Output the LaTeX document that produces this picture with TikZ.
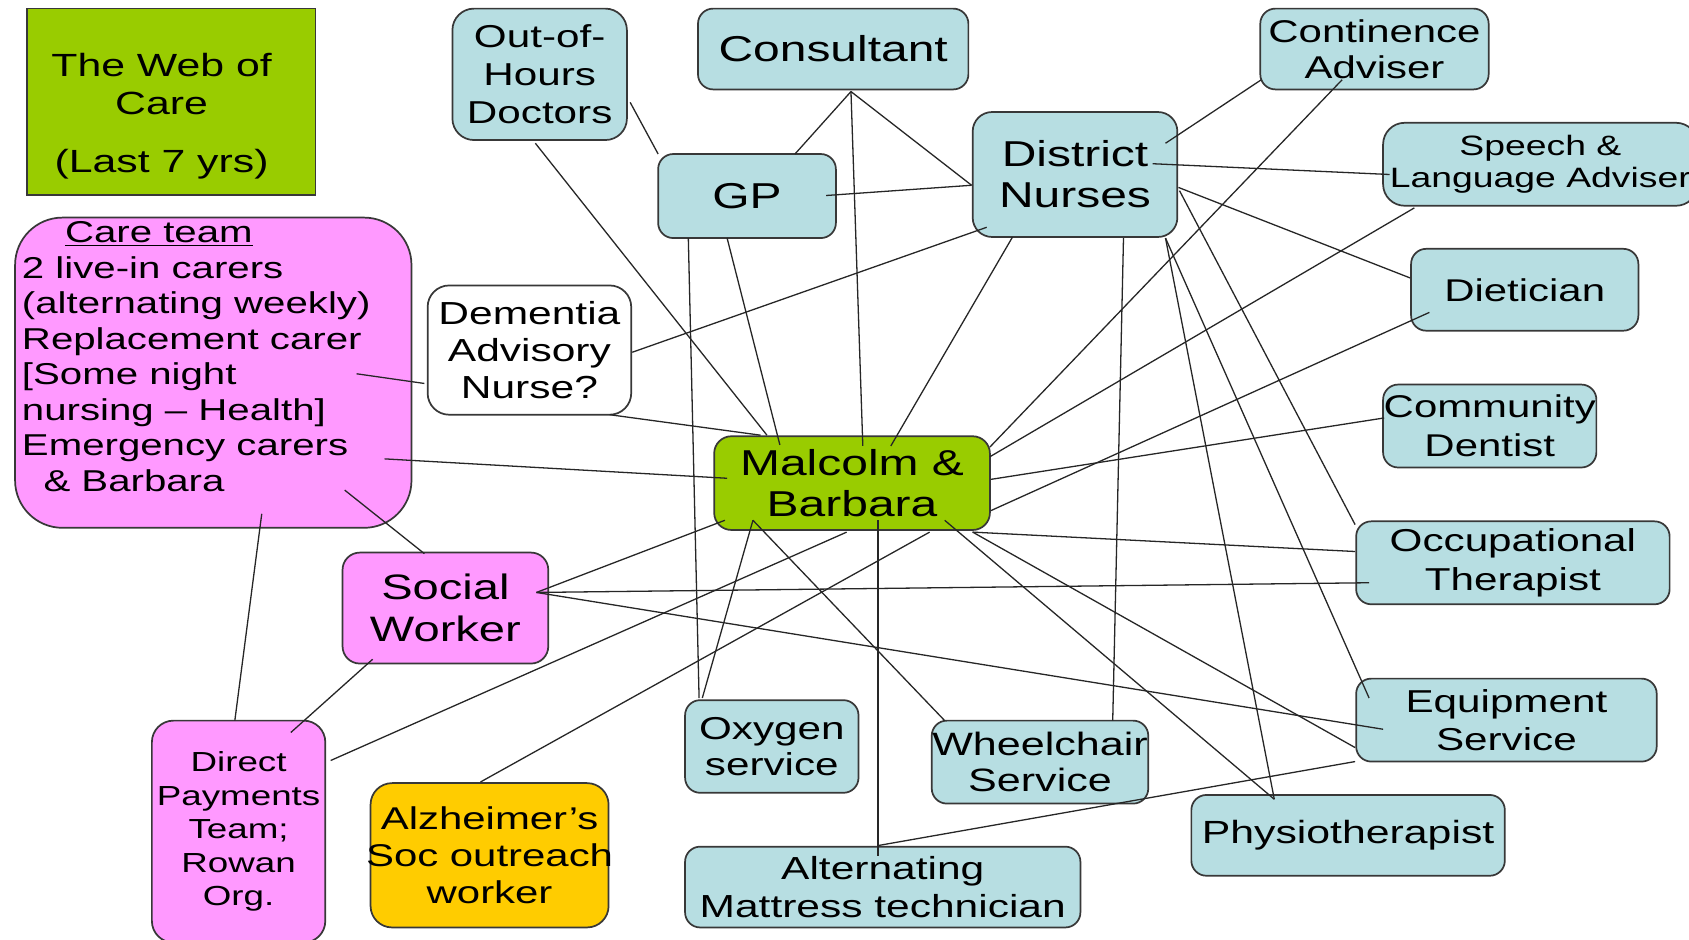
\documentclass[tikz,border=0pt]{standalone}
\usepackage{fontspec}
\setmainfont[FakeStretch=1.333]{Liberation Sans}
\usetikzlibrary{calc}
\definecolor{lblue}{HTML}{B7DEE2}
\definecolor{pinkc}{HTML}{FF99FF}
\definecolor{greenc}{HTML}{99CC00}
\definecolor{orangec}{HTML}{FFCC00}
\definecolor{edgec}{HTML}{383838}
\newcommand\fsz[2]{\fontsize{#1}{#2}\selectfont}
\tikzset{
  box/.style={draw=edgec, line width=0.8pt, rounded corners=7pt, align=center, inner sep=0pt, text=black},
  bluebox/.style={box, fill=lblue},
  pinkbox/.style={box, fill=pinkc},
  greenbox/.style={box, fill=greenc},
  orangebox/.style={box, fill=orangec},
  whitebox/.style={box, fill=white},
  txt/.style={inner sep=0pt, text=black},
  conn/.style={draw=black!85, line width=0.6pt},
}
\begin{document}
\begin{tikzpicture}[x=0.5pt, y=-0.5pt]
\clip (0,0) rectangle (1568,872);
\fill[white] (0,0) rectangle (1568,872);

% boxes
\node[greenbox, rounded corners=0pt, minimum width=134pt, minimum height=86.5pt] (title) at (159,94.5) {};
\node[txt, align=center, font=\fsz{14.9}{18}] (titletxt) at (150,107.5) {The Web of\\Care\\[8.5pt](Last 7 yrs)};

\node[pinkbox, rounded corners=22pt, minimum width=184pt, minimum height=144pt] (care) at (198,346) {};
\node[txt, align=left, anchor=west, font=\fsz{14}{16.5}] (caretxt) at (20,331)
  {\hspace*{20pt}\underline{Care team}\\2 live-in carers\\(alternating weekly)\\Replacement carer\\{[}Some night\\nursing -- Health]\\Emergency carers\\\hspace*{10pt}\& Barbara};

\node[bluebox, rounded corners=10pt, minimum width=81pt, minimum height=61pt, font=\fsz{14.7}{17.5}] (ooh) at (501,69) {Out-of-\\Hours\\Doctors};
\node[bluebox, minimum width=125.5pt, minimum height=37.5pt, font=\fsz{16.7}{19}] (cons) at (773.5,45.5) {\raisebox{-1pt}{Consultant}};
\node[bluebox, minimum width=106pt, minimum height=37.5pt, font=\fsz{14.6}{16.5}] (cont) at (1276,45.5) {Continence\\Adviser};
\node[bluebox, minimum width=82.5pt, minimum height=39pt, font=\fsz{16.7}{19}] (gp) at (693.5,182) {GP};
\node[bluebox, rounded corners=9pt, minimum width=95pt, minimum height=58pt, font=\fsz{16.7}{19}] (dn) at (998,162) {District\\Nurses};
\node[bluebox, rounded corners=10pt, minimum width=146pt, minimum height=38.5pt, font=\fsz{13}{14.5}] (speech) at (1430,152.5) {Speech \&\\Language Adviser};
\node[bluebox, minimum width=105.5pt, minimum height=38pt, font=\fsz{14.6}{17.5}] (diet) at (1415.5,269) {Dietician};
\node[bluebox, minimum width=99pt, minimum height=38.5pt, font=\fsz{14.6}{18}] (dent) at (1383,395.5) {Community\\Dentist};
\node[bluebox, minimum width=145.5pt, minimum height=38.5pt, font=\fsz{14.7}{18.5}] (occ) at (1404.5,522.5) {Occupational\\Therapist};
\node[bluebox, minimum width=139.5pt, minimum height=38.5pt, font=\fsz{14.7}{18}] (equip) at (1398.5,668.5) {Equipment\\Service};
\node[bluebox, minimum width=145.5pt, minimum height=37.5pt, font=\fsz{14.9}{17.5}] (physio) at (1251.5,775.5) {\raisebox{-1pt}{Physiotherapist}};
\node[bluebox, minimum width=100.5pt, minimum height=38.5pt, font=\fsz{15}{17}] (wheel) at (965.5,707.5) {\makebox[90pt]{Wheelchair}\\Service};
\node[bluebox, minimum width=183.5pt, minimum height=37.5pt, font=\fsz{14.8}{17.5}] (matt) at (819.5,823.5) {Alternating\\Mattress technician};
\node[bluebox, minimum width=80.5pt, minimum height=43pt, font=\fsz{14.7}{17}] (oxy) at (716.5,693) {Oxygen\\service};
\node[orangebox, rounded corners=10pt, minimum width=110.5pt, minimum height=67pt, font=\fsz{14.6}{17}] (alz) at (454.5,794) {Alzheimer’s\\\makebox[100pt]{Soc outreach}\\worker};
\node[pinkbox, rounded corners=10pt, minimum width=80.5pt, minimum height=103pt, font=\fsz{12.8}{15.5}] (dp) at (221.5,772) {Direct\\Payments\\Team;\\Rowan\\Org.};
\node[pinkbox, rounded corners=8pt, minimum width=95.5pt, minimum height=51.5pt, font=\fsz{16.4}{19.5}] (sw) at (413.5,564.5) {Social\\Worker};
\node[whitebox, rounded corners=10pt, minimum width=94.5pt, minimum height=60pt, font=\fsz{14.8}{17.3}] (dem) at (491.5,325) {Dementia\\Advisory\\Nurse?};
\node[greenbox, rounded corners=8pt, minimum width=128pt, minimum height=43.5pt, font=\fsz{16.7}{19}] (mb) at (791,448.5) {Malcolm \&\\Barbara};

% connectors
\draw[conn] ($(ooh)+(84,26)$) -- ($(gp)+(-82.5,-39)$);
\draw[conn] ($(ooh)+(-4,64)$) -- ($(mb)+(-79,-44.5)$);
\draw[conn] ($(cons)+(16.5,39.5)$) -- ($(gp)+(44.5,-39)$);
\draw[conn] ($(cons)+(16.5,39.5)$) -- ($(mb)+(10,-34.5)$);
\draw[conn] ($(cons)+(16.5,39.5)$) -- ($(dn)+(-96,10)$);
\draw[conn] ($(gp)+(73.5,-0.5)$) -- ($(dn)+(-96,10)$);
\draw[conn] ($(gp)+(-54.5,39)$) -- ($(oxy)+(-67.5,-45)$);
\draw[conn] ($(gp)+(-18.5,39)$) -- ($(mb)+(-67,-35.5)$);
\draw[conn] ($(dn)+(-58,58)$) -- ($(mb)+(36,-34.5)$);
\draw[conn] ($(dn)+(45,59)$) -- ($(wheel)+(67.5,-38.5)$);
\draw[conn] ($(dn)+(-82,49)$) -- ($(dem)+(95.5,2)$);
\draw[conn] ($(dn)+(84,-29)$) -- ($(cont)+(-105,28.5)$);
\draw[conn] ($(dn)+(72,-10)$) -- ($(speech)+(-140,9.5)$);
\draw[conn] ($(dn)+(96,12)$) -- ($(diet)+(-106.5,-11)$);
\draw[conn] ($(dn)+(84,59)$) -- ($(physio)+(-68.5,-33.5)$);
\draw[conn] ($(dn)+(84,59)$) -- ($(equip)+(-127.5,-20.5)$);
\draw[conn] ($(dn)+(97,15)$) -- ($(occ)+(-146.5,-35.5)$);
\draw[conn] ($(cont)+(-30,28.5)$) -- ($(mb)+(128,-33.5)$);
\draw[conn] ($(speech)+(-117,40.5)$) -- ($(mb)+(128,-24.5)$);
\draw[conn] ($(dent)+(-98,-7.5)$) -- ($(mb)+(129,-3.5)$);
\draw[conn] ($(diet)+(-88.5,21)$) -- ($(mb)+(129,25.5)$);
\draw[conn] ($(mb)+(112,45.5)$) -- ($(occ)+(-146.5,-10.5)$);
\draw[conn] ($(sw)+(84.5,-14.5)$) -- ($(occ)+(-133.5,18.5)$);
\draw[conn] ($(sw)+(84.5,-14.5)$) -- ($(mb)+(-118,34.5)$);
\draw[conn] ($(sw)+(84.5,-14.5)$) -- ($(equip)+(-114.5,8.5)$);
\draw[conn] ($(mb)+(86,34.5)$) -- ($(physio)+(-68.5,-33.5)$);
\draw[conn] ($(mb)+(112,45.5)$) -- ($(equip)+(-140.5,25.5)$);
\draw[conn] ($(mb)+(-92,34.5)$) -- ($(wheel)+(-88.5,-38.5)$);
\draw[conn] ($(mb)+(-92,34.5)$) -- ($(oxy)+(-64.5,-45)$);
\draw[conn] ($(mb)+(24,34.5)$) -- ($(matt)+(-4.5,-28.5)$);
\draw[conn] ($(mb)+(-5,45.5)$) -- ($(dp)+(85.5,-66)$);
\draw[conn] ($(mb)+(72,45.5)$) -- ($(alz)+(-8.5,-68)$);
\draw[conn] ($(matt)+(-4.5,-38.5)$) -- ($(equip)+(-140.5,38.5)$);
\draw[conn] ($(care)+(159,80)$) -- ($(mb)+(-116,-4.5)$);
\draw[conn] ($(care)+(133,1)$) -- ($(dem)+(-97.5,31)$);
\draw[conn] ($(dem)+(74.5,60)$) -- ($(mb)+(-85,-44.5)$);
\draw[conn] ($(care)+(122,109)$) -- ($(sw)+(-19.5,-50.5)$);
\draw[conn] ($(care)+(45,131)$) -- ($(dp)+(-3.5,-103)$);
\draw[conn] ($(sw)+(-67.5,47.5)$) -- ($(dp)+(48.5,-92)$);
\end{tikzpicture}
\end{document}
